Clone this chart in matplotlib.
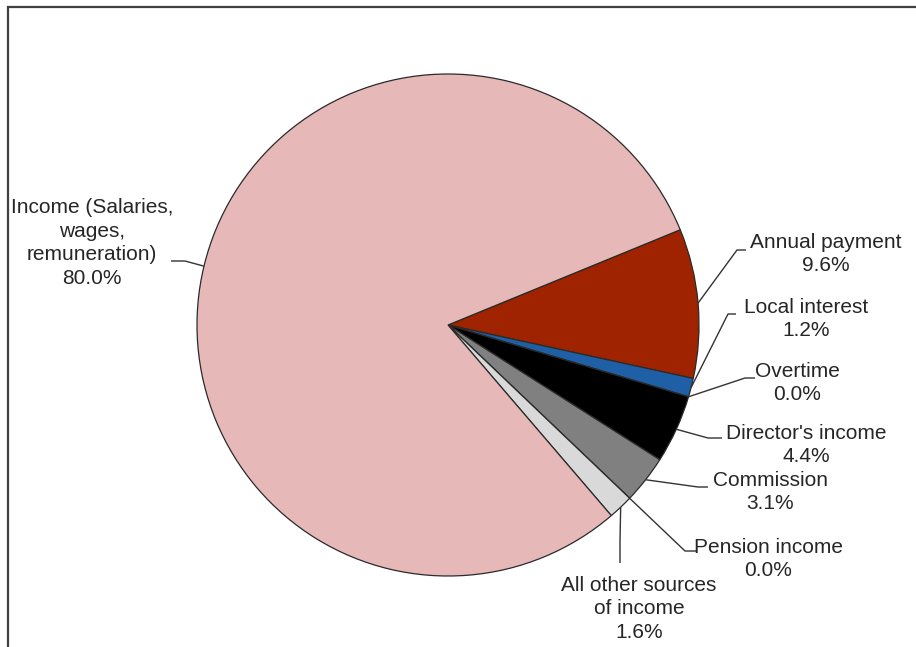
import numpy as np
import matplotlib
matplotlib.use("Agg")
import matplotlib.pyplot as plt
from matplotlib.patches import Rectangle

plt.rcParams['font.family'] = ['Liberation Sans', 'DejaVu Sans']

categories = ["Annual payment", "Local interest", "Overtime", "Director's income",
              "Commission", "Pension income", "All other sources\nof income",
              "Income (Salaries,\nwages,\nremuneration)"]
values = [9.6, 1.2, 0.0, 4.4, 3.1, 0.0, 1.6, 80.0]
colors = ["#A02300", "#1F5FA5", "#FFFFFF", "#000000", "#808080", "#FFFFFF",
          "#D9D9D9", "#E6B8B7"]

W, H = 916, 647
fig = plt.figure(figsize=(W / 100, H / 100), dpi=100)
ax = fig.add_axes([0, 0, 1, 1])

def Y(y):
    return H - y

cx, cy, R = 448, 325, 251
wedges, _ = ax.pie(values, colors=colors, startangle=22.3, counterclock=False,
                   center=(cx, Y(cy)), radius=R,
                   wedgeprops=dict(edgecolor="#2a2a2a", linewidth=0.9))
ax.set_xlim(0, W)
ax.set_ylim(0, H)
ax.set_aspect('equal')
ax.axis('off')

# label layout: (text center x, text center y, elbow, end) in pixel coords
layout = [
    (826, 254, (737, 250), (746, 250)),
    (806, 319, (728, 314), (736, 314)),
    (797, 383, (745, 378), (755, 378)),
    (806, 445, (708, 438), (722, 438)),
    (770, 492, (698, 487), (708, 487)),
    (768, 559, (685, 551), (697, 551)),
    (639, 609, (620, 540), (620, 563)),
    (92, 243, (185, 261), (171, 261)),
]

tc = "#262626"
for w, cat, v, (tx, ty, elb, end) in zip(wedges, categories, values, layout):
    mid = np.deg2rad((w.theta1 + w.theta2) / 2)
    sx = cx + R * np.cos(mid)
    sy = Y(cy) + R * np.sin(mid)
    ax.plot([sx, elb[0], end[0]], [sy, Y(elb[1]), Y(end[1])],
            color="#333333", lw=1.0, solid_capstyle='butt')
    ax.text(tx, Y(ty), f"{cat}\n{v:.1f}%", ha='center', va='center',
            multialignment='center', fontsize=15, color=tc, linespacing=1.32)

# outer frame (only top and left visible)
ax.add_patch(Rectangle((8, -20), W + 50, Y(7) + 20, fill=False,
                       edgecolor="#404040", lw=1.6, clip_on=False))

fig.savefig("out.png", dpi=100)
